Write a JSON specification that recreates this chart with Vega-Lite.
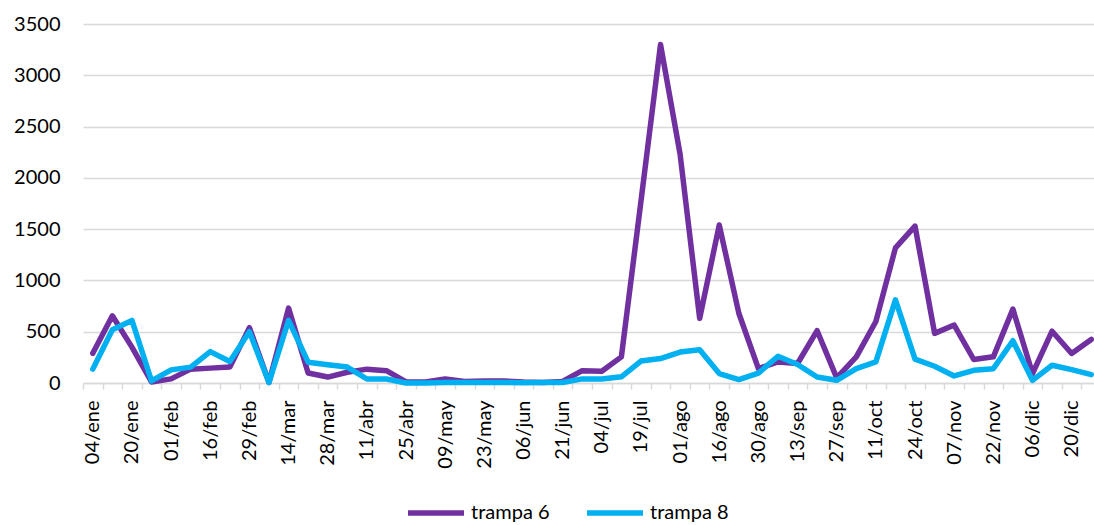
{
  "$schema": "https://vega.github.io/schema/vega-lite/v6.json",
  "autosize": {"type": "none"},
  "padding": {"left": 83, "top": 24, "right": 0, "bottom": 142},
  "width": 1011,
  "height": 359,
  "background": "white",
  "config": {
    "view": {"stroke": null},
    "font": "Lato",
    "axis": {"labelFont": "Lato", "labelColor": "#000000", "labelFontSize": 20}
  },
  "data": {
    "values": [
      {"fecha": "04/ene", "trampa 6": 290, "trampa 8": 135},
      {"fecha": "12/ene", "trampa 6": 655, "trampa 8": 520},
      {"fecha": "20/ene", "trampa 6": 350, "trampa 8": 610},
      {"fecha": "26/ene", "trampa 6": 10, "trampa 8": 20},
      {"fecha": "01/feb", "trampa 6": 40, "trampa 8": 128},
      {"fecha": "08/feb", "trampa 6": 135, "trampa 8": 155},
      {"fecha": "16/feb", "trampa 6": 145, "trampa 8": 306},
      {"fecha": "22/feb", "trampa 6": 155, "trampa 8": 210},
      {"fecha": "29/feb", "trampa 6": 540, "trampa 8": 500},
      {"fecha": "07/mar", "trampa 6": 5, "trampa 8": 5},
      {"fecha": "14/mar", "trampa 6": 730, "trampa 8": 610},
      {"fecha": "21/mar", "trampa 6": 97, "trampa 8": 203},
      {"fecha": "28/mar", "trampa 6": 58, "trampa 8": 177},
      {"fecha": "04/abr", "trampa 6": 105, "trampa 8": 155},
      {"fecha": "11/abr", "trampa 6": 135, "trampa 8": 39},
      {"fecha": "18/abr", "trampa 6": 120, "trampa 8": 39},
      {"fecha": "25/abr", "trampa 6": 10, "trampa 8": 0},
      {"fecha": "02/may", "trampa 6": 10, "trampa 8": 0},
      {"fecha": "09/may", "trampa 6": 40, "trampa 8": 5},
      {"fecha": "16/may", "trampa 6": 15, "trampa 8": 5},
      {"fecha": "23/may", "trampa 6": 20, "trampa 8": 5},
      {"fecha": "30/may", "trampa 6": 20, "trampa 8": 5},
      {"fecha": "06/jun", "trampa 6": 10, "trampa 8": 3},
      {"fecha": "13/jun", "trampa 6": 5, "trampa 8": 5},
      {"fecha": "21/jun", "trampa 6": 15, "trampa 8": 5},
      {"fecha": "27/jun", "trampa 6": 120, "trampa 8": 40},
      {"fecha": "04/jul", "trampa 6": 115, "trampa 8": 40},
      {"fecha": "11/jul", "trampa 6": 255, "trampa 8": 60},
      {"fecha": "19/jul", "trampa 6": 1770, "trampa 8": 214},
      {"fecha": "25/jul", "trampa 6": 3300, "trampa 8": 238},
      {"fecha": "01/ago", "trampa 6": 2230, "trampa 8": 302},
      {"fecha": "08/ago", "trampa 6": 630, "trampa 8": 325},
      {"fecha": "16/ago", "trampa 6": 1540, "trampa 8": 92},
      {"fecha": "22/ago", "trampa 6": 680, "trampa 8": 33},
      {"fecha": "30/ago", "trampa 6": 140, "trampa 8": 97},
      {"fecha": "06/sep", "trampa 6": 205, "trampa 8": 260},
      {"fecha": "13/sep", "trampa 6": 190, "trampa 8": 180},
      {"fecha": "20/sep", "trampa 6": 510, "trampa 8": 59},
      {"fecha": "27/sep", "trampa 6": 50, "trampa 8": 26},
      {"fecha": "04/oct", "trampa 6": 255, "trampa 8": 140},
      {"fecha": "11/oct", "trampa 6": 600, "trampa 8": 206},
      {"fecha": "17/oct", "trampa 6": 1317, "trampa 8": 810},
      {"fecha": "24/oct", "trampa 6": 1530, "trampa 8": 232},
      {"fecha": "31/oct", "trampa 6": 484, "trampa 8": 163},
      {"fecha": "07/nov", "trampa 6": 565, "trampa 8": 69},
      {"fecha": "14/nov", "trampa 6": 229, "trampa 8": 124},
      {"fecha": "22/nov", "trampa 6": 255, "trampa 8": 140},
      {"fecha": "29/nov", "trampa 6": 720, "trampa 8": 412},
      {"fecha": "06/dic", "trampa 6": 92, "trampa 8": 26},
      {"fecha": "13/dic", "trampa 6": 505, "trampa 8": 173},
      {"fecha": "20/dic", "trampa 6": 288, "trampa 8": 131},
      {"fecha": "27/dic", "trampa 6": 425, "trampa 8": 82}
    ]
  },
  "transform": [
    {"fold": ["trampa 6", "trampa 8"], "as": ["serie", "valor"]}
  ],
  "mark": {"type": "line", "strokeWidth": 5.5, "strokeJoin": "round", "strokeCap": "round"},
  "encoding": {
    "x": {
      "field": "fecha",
      "type": "ordinal",
      "sort": null,
      "bandPosition": 0.5,
      "scale": {"type": "band", "paddingInner": 0, "paddingOuter": 0, "range": [0, 1018]},
      "axis": {
        "title": null,
        "labelAngle": -90,
        "labelOverlap": false,
        "labelPadding": 11,
        "tickBand": "extent",
        "tickSize": 6,
        "tickColor": "#D9D9D9",
        "tickWidth": 1.5,
        "domainColor": "#D9D9D9",
        "domainWidth": 1.5,
        "grid": false,
        "labelExpr": "indexof(['04/ene','20/ene','01/feb','16/feb','29/feb','14/mar','28/mar','11/abr','25/abr','09/may','23/may','06/jun','21/jun','04/jul','19/jul','01/ago','16/ago','30/ago','13/sep','27/sep','11/oct','24/oct','07/nov','22/nov','06/dic','20/dic'], datum.value) >= 0 ? datum.value : ''"
      }
    },
    "y": {
      "field": "valor",
      "type": "quantitative",
      "scale": {"domain": [0, 3500], "nice": false},
      "axis": {
        "title": null,
        "format": "d",
        "values": [0, 500, 1000, 1500, 2000, 2500, 3000, 3500],
        "domain": false,
        "ticks": false,
        "tickSize": 0,
        "labelPadding": 23,
        "gridColor": "#D9D9D9",
        "gridWidth": 1.5
      }
    },
    "color": {
      "field": "serie",
      "type": "nominal",
      "scale": {"domain": ["trampa 6", "trampa 8"], "range": ["#7030A0", "#00B0F0"]},
      "legend": {
        "title": null,
        "orient": "none",
        "direction": "horizontal",
        "legendX": 322,
        "legendY": 458,
        "symbolType": "stroke",
        "symbolSize": 3136,
        "symbolStrokeWidth": 5.5,
        "labelFont": "Lato",
        "labelFontSize": 20,
        "labelColor": "#000000",
        "labelOffset": 4,
        "columnPadding": 26
      }
    }
  }
}
